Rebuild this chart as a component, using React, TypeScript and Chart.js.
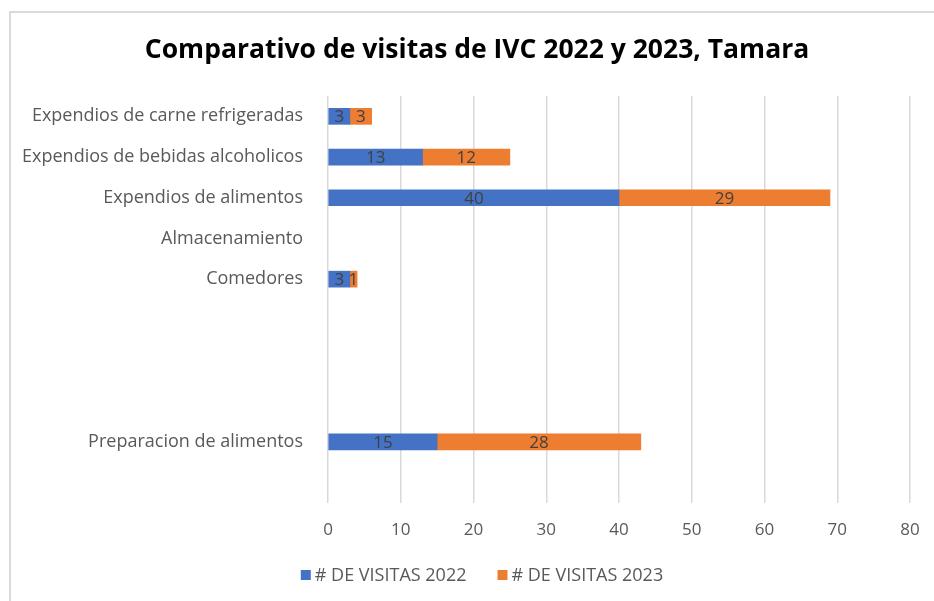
import React, { useEffect, useRef } from "react";
import { Chart, registerables } from "chart.js";

Chart.register(...registerables);

const TITLE = "Comparativo de visitas de IVC 2022 y 2023, Tamara";
const categories = [
  "Expendios de carne refrigeradas",
  "Expendios de bebidas alcoholicos",
  "Expendios de alimentos",
  "Almacenamiento",
  "Comedores",
  "",
  "",
  "",
  "Preparacion de alimentos",
  "",
];
const visitas2022: (number | null)[] = [3, 13, 40, null, 3, null, null, null, 15, null];
const visitas2023: (number | null)[] = [3, 12, 29, null, 1, null, null, null, 28, null];
const seriesNames = ["# DE VISITAS 2022", "# DE VISITAS 2023"];
const seriesColors = ["#4472C4", "#ED7D31"];
const xTicks = [0, 10, 20, 30, 40, 50, 60, 70, 80];

const FONT = "'Open Sans', sans-serif";

const dataLabels = {
  id: "dataLabels",
  afterDatasetsDraw(chart: any) {
    const ctx = chart.ctx;
    ctx.save();
    ctx.font = `17px ${FONT}`;
    ctx.fillStyle = "#404040";
    ctx.textAlign = "center";
    ctx.textBaseline = "middle";
    chart.data.datasets.forEach((ds: any, i: number) => {
      const meta = chart.getDatasetMeta(i);
      meta.data.forEach((el: any, j: number) => {
        const v = ds.data[j];
        if (v === null || v === undefined) return;
        const p = el.getProps(["x", "y", "base"], true);
        ctx.fillText(String(v), (p.x + p.base) / 2, p.y + 1);
      });
    });
    ctx.restore();
  },
};

const titleAndLegend = {
  id: "titleAndLegend",
  afterDraw(chart: any) {
    const ctx = chart.ctx;
    ctx.save();
    // title
    ctx.font = `bold 26.5px ${FONT}`;
    ctx.fillStyle = "#000";
    ctx.textAlign = "center";
    ctx.textBaseline = "middle";
    ctx.fillText(TITLE, 477, 50);
    // legend
    ctx.font = `18px ${FONT}`;
    ctx.textAlign = "left";
    const box = 10;
    const gap = 4;
    const spacing = 31;
    const widths = seriesNames.map((n) => ctx.measureText(n).width);
    const total = widths.reduce((a, w) => a + box + gap + w, 0) + spacing * (seriesNames.length - 1);
    let x = 482 - total / 2;
    const y = 575;
    seriesNames.forEach((n, i) => {
      ctx.fillStyle = seriesColors[i];
      ctx.fillRect(x, y - box / 2, box, box);
      ctx.fillStyle = "#595959";
      ctx.fillText(n, x + box + gap, y + 1);
      x += box + gap + widths[i] + spacing;
    });
    ctx.restore();
  },
};

export default function App() {
  const ref = useRef<HTMLCanvasElement>(null);
  useEffect(() => {
    if (!ref.current) return;
    const chart = new Chart(ref.current, {
      type: "bar",
      data: {
        labels: categories,
        datasets: seriesNames.map((n, i) => ({
          label: n,
          data: i === 0 ? visitas2022 : visitas2023,
          backgroundColor: seriesColors[i],
          barThickness: 16,
        })),
      },
      options: {
        indexAxis: "y",
        animation: false,
        responsive: false,
        maintainAspectRatio: false,
        layout: { padding: { left: 0, right: 24, top: 96, bottom: 44 } },
        scales: {
          x: {
            stacked: true,
            min: 0,
            max: 80,
            afterBuildTicks: (s: any) => {
              s.ticks = xTicks.map((v) => ({ value: v }));
            },
            afterFit: (s: any) => {
              s.height = 54;
              s.paddingLeft = 0;
              s.paddingRight = 0;
            },
            grid: { color: "#d9d9d9", lineWidth: 1.5, drawTicks: false },
            border: { display: false },
            ticks: { color: "#595959", font: { size: 17, family: FONT }, padding: 17 },
          },
          y: {
            stacked: true,
            afterFit: (s: any) => {
              s.width = 328;
            },
            grid: { display: false },
            border: { display: false },
            ticks: { color: "#595959", font: { size: 18, family: FONT }, padding: 17, autoSkip: false },
          },
        },
        plugins: {
          title: { display: false },
          legend: { display: false },
          tooltip: { enabled: false },
        },
      },
      plugins: [dataLabels, titleAndLegend],
    });
    return () => chart.destroy();
  }, []);
  return (
    <div style={{ position: "absolute", left: 0, top: 0, width: 934, height: 601, background: "#fff" }}>
      <div
        style={{
          position: "absolute",
          left: 9,
          top: 11,
          width: 940,
          height: 600,
          borderLeft: "2px solid #d9d9d9",
          borderTop: "2px solid #d9d9d9",
        }}
      />
      <canvas ref={ref} width={934} height={601} style={{ position: "absolute", left: 0, top: 0 }} />
    </div>
  );
}
